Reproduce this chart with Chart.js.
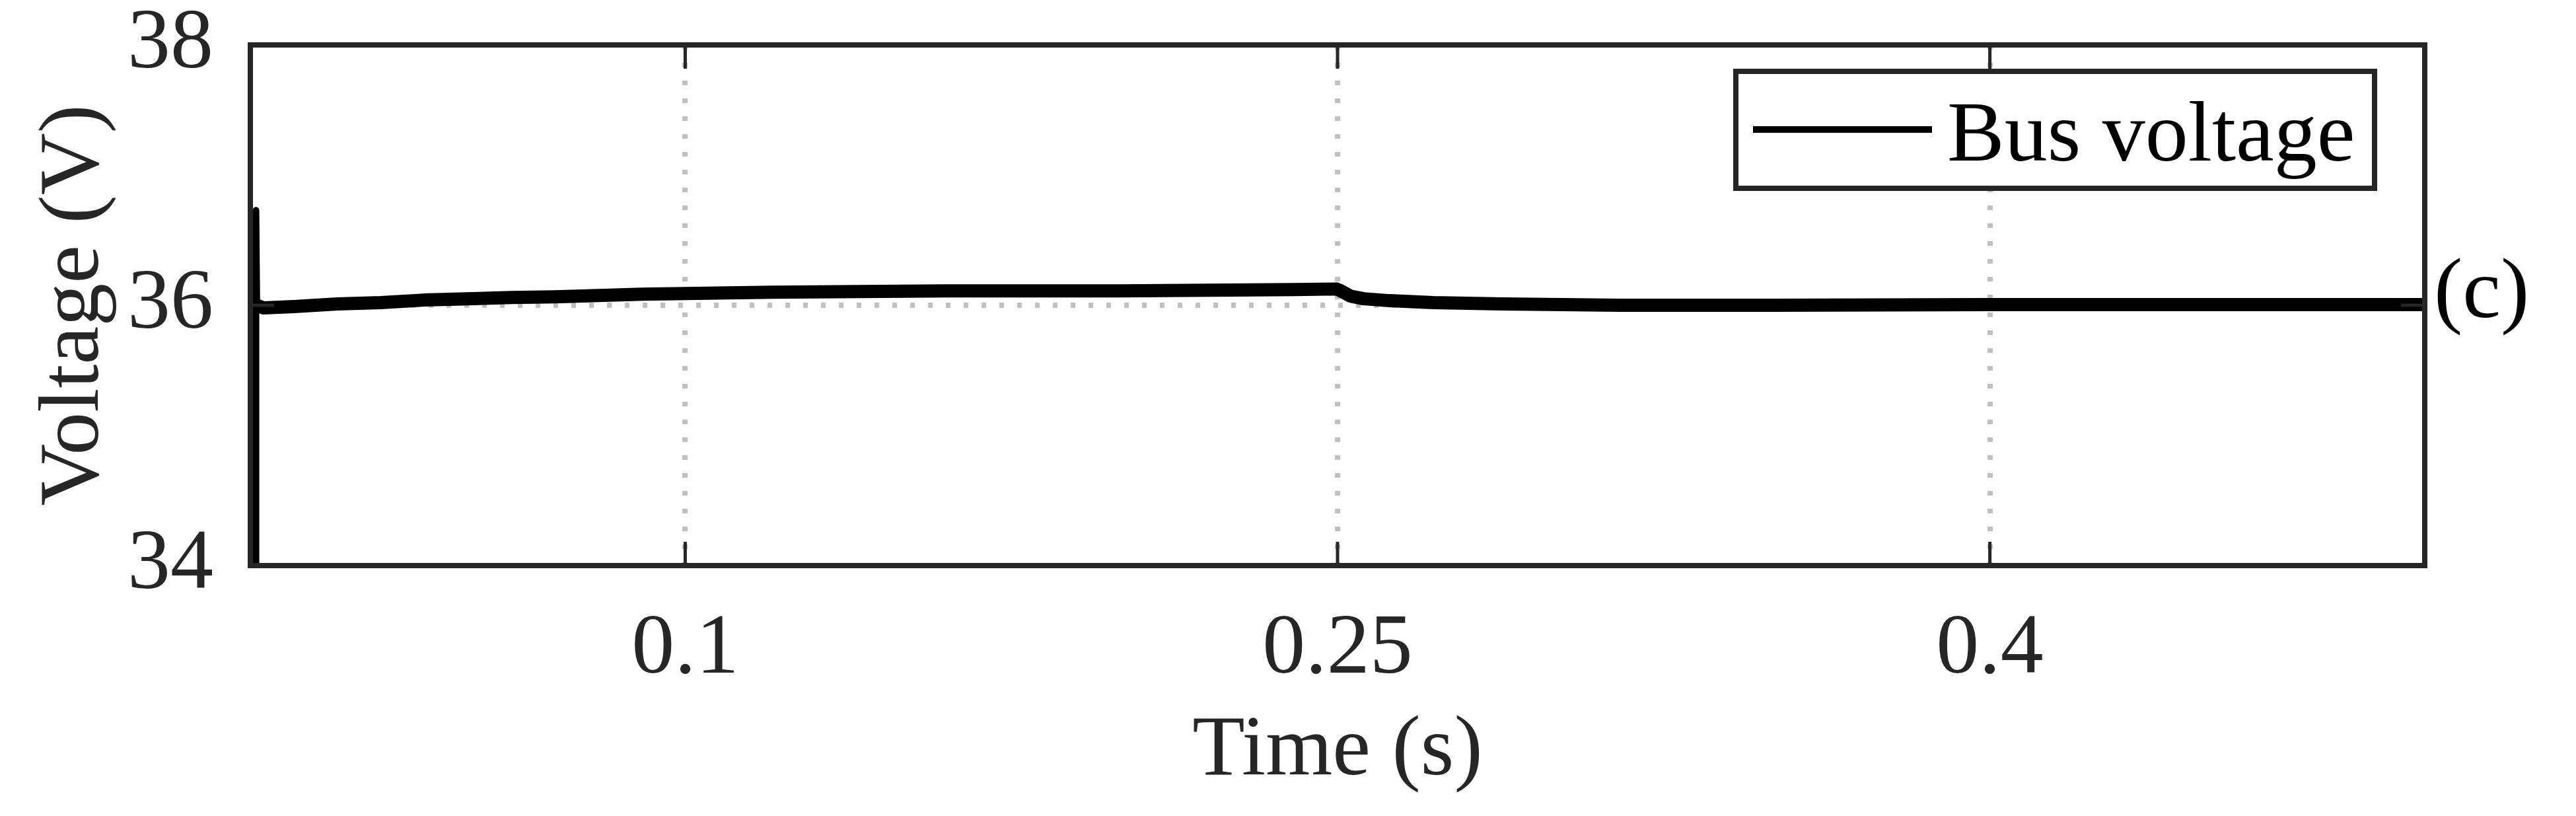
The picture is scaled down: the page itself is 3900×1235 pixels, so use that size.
<!DOCTYPE html>
<html>
<head>
<meta charset="utf-8">
<script src="https://cdn.jsdelivr.net/npm/chart.js@4/dist/chart.umd.min.js"></script>
<style>
  html, body { margin: 0; padding: 0; background: #ffffff; }
  #c { display: block; }
</style>
</head>
<body>
<canvas id="c" width="3900" height="1235"></canvas>
<script>
// ---- data ----
const timeValues = [0.0013, 0.0013, 0.0015, 0.003, 0.01, 0.02, 0.03, 0.04, 0.05, 0.06, 0.07, 0.08, 0.09, 0.10, 0.12, 0.14, 0.16, 0.18, 0.20, 0.22, 0.24, 0.2497, 0.2505, 0.253, 0.256, 0.262, 0.272, 0.288, 0.315, 0.35, 0.40, 0.45, 0.50];
const busVoltage = [33.0, 36.73, 36.00, 35.98, 35.99, 36.01, 36.02, 36.04, 36.05, 36.06, 36.065, 36.075, 36.085, 36.09, 36.10, 36.105, 36.11, 36.11, 36.11, 36.115, 36.12, 36.125, 36.115, 36.07, 36.05, 36.035, 36.02, 36.01, 36.0, 36.0, 36.005, 36.005, 36.005];
const seriesLabel = 'Bus voltage';
const xTickValues = [0.1, 0.25, 0.4];
const yTickValues = [34, 36, 38];
const xTitle = 'Time (s)';
const yTitle = 'Voltage (V)';
const panelTag = '(c)';

const FONT = '"Liberation Serif", "Times New Roman", Times, serif';
const AXIS_COLOR = '#262626';

const points = timeValues.map((t, i) => ({ x: t, y: busVoltage[i] }));

const framePlugin = {
  id: 'frame',
  afterDatasetsDraw(chart) {
    const { ctx, chartArea: a, scales } = chart;
    const xs = scales.x, ys = scales.y;
    ctx.save();
    // inward tick marks
    ctx.strokeStyle = AXIS_COLOR;
    ctx.lineWidth = 5;
    const tl = 36;
    ctx.beginPath();
    xTickValues.forEach(v => {
      const px = xs.getPixelForValue(v);
      ctx.moveTo(px, a.bottom); ctx.lineTo(px, a.bottom - tl);
      ctx.moveTo(px, a.top); ctx.lineTo(px, a.top + tl);
    });
    yTickValues.forEach(v => {
      const py = ys.getPixelForValue(v);
      ctx.moveTo(a.left, py); ctx.lineTo(a.left + tl, py);
      ctx.moveTo(a.right, py); ctx.lineTo(a.right - tl, py);
    });
    ctx.stroke();
    // box
    ctx.lineWidth = 8;
    ctx.strokeRect(a.left, a.top, a.right - a.left, a.bottom - a.top);

    // legend box (inside the plot, top right)
    const ds = chart.data.datasets[0];
    const bx = 2628, by = 108, bw = 3595 - 2628, bh = 285 - 108;
    ctx.fillStyle = '#ffffff';
    ctx.fillRect(bx, by, bw, bh);
    ctx.lineWidth = 8;
    ctx.strokeStyle = AXIS_COLOR;
    ctx.strokeRect(bx, by, bw, bh);
    ctx.strokeStyle = ds.borderColor;
    ctx.lineWidth = 10;
    ctx.beginPath();
    ctx.moveTo(2654, 196); ctx.lineTo(2925, 196);
    ctx.stroke();
    ctx.fillStyle = '#000000';
    ctx.font = '130px ' + FONT;
    ctx.textAlign = 'left';
    ctx.textBaseline = 'alphabetic';
    ctx.fillText(ds.label, 2948, 243);

    // panel tag at the right
    ctx.fillText(panelTag, 3685, 480);
    ctx.restore();
  }
};

new Chart(document.getElementById('c'), {
  type: 'line',
  data: {
    datasets: [{
      label: seriesLabel,
      data: points,
      borderColor: '#000000',
      backgroundColor: '#000000',
      borderWidth: 20,
      pointRadius: 0,
      tension: 0,
      clip: 0,
      borderJoinStyle: 'round',
      segment: {
        borderWidth: c => (c.p0DataIndex < 2 ? 10 : 20)
      }
    }]
  },
  options: {
    responsive: false,
    devicePixelRatio: 1,
    animation: false,
    layout: { padding: { left: 0, right: 229, top: 68, bottom: 0 } },
    plugins: {
      legend: { display: false },
      tooltip: { enabled: false }
    },
    scales: {
      x: {
        type: 'linear',
        min: 0,
        max: 0.5,
        afterBuildTicks: s => { s.ticks = xTickValues.map(v => ({ value: v })); },
        afterFit: s => { s.height = 379; s.paddingLeft = 0; s.paddingRight = 0; },
        grid: { color: '#c0c0c0', lineWidth: 8, drawTicks: false },
        border: { display: false, dash: [7, 20] },
        ticks: {
          autoSkip: false, maxRotation: 0, padding: 50,
          color: AXIS_COLOR,
          font: { family: FONT, size: 130 },
          callback: v => String(v)
        },
        title: {
          display: true, text: xTitle, color: AXIS_COLOR,
          font: { family: FONT, size: 130 },
          padding: { top: 0, bottom: 19 }
        }
      },
      y: {
        type: 'linear',
        min: 34,
        max: 38,
        afterBuildTicks: s => { s.ticks = yTickValues.map(v => ({ value: v })); },
        afterFit: s => { s.width = 379; s.paddingTop = 0; s.paddingBottom = 0; },
        grid: { color: '#c0c0c0', lineWidth: 8, drawTicks: false },
        border: { display: false, dash: [7, 20] },
        ticks: {
          autoSkip: false, padding: 56,
          color: AXIS_COLOR,
          font: { family: FONT, size: 130 },
          callback: v => String(v)
        },
        title: {
          display: true, text: yTitle, color: AXIS_COLOR,
          font: { family: FONT, size: 130 },
          padding: { top: 36, bottom: 0 }
        }
      }
    }
  },
  plugins: [framePlugin]
});
</script>
</body>
</html>
